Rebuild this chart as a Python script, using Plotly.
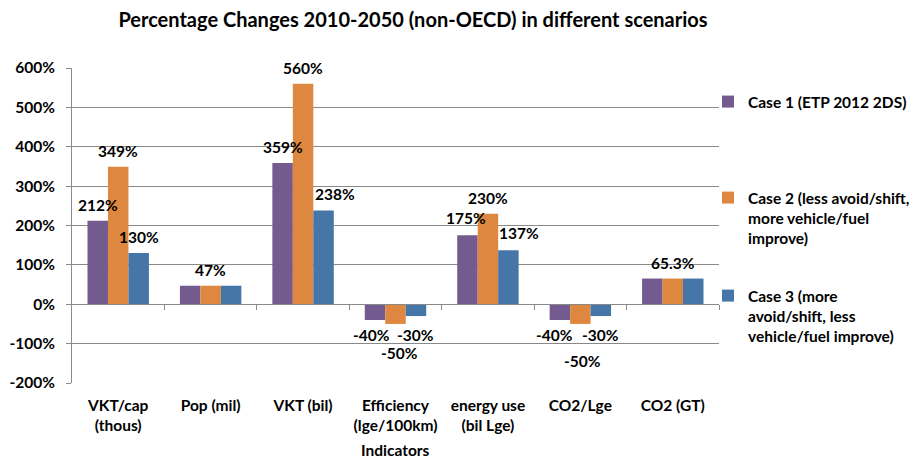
import plotly.graph_objects as go

categories = ["VKT/cap<br>(thous)", "Pop (mil)", "VKT (bil)", "Efficiency<br>(lge/100km)",
              "energy use<br>(bil Lge)", "CO2/Lge", "CO2 (GT)"]
series_names = ["Case 1 (ETP 2012 2DS)",
                "Case 2 (less avoid/shift,<br>more vehicle/fuel<br>improve)",
                "Case 3 (more<br>avoid/shift, less<br>vehicle/fuel improve)"]
case1 = [212, 47, 359, -40, 175, -40, 65.3]
case2 = [349, 47, 560, -50, 230, -50, 65.3]
case3 = [130, 47, 238, -30, 137, -30, 65.3]
labels1 = ["212%", None, "359%", "-40%", "175%", "-40%", None]
labels2 = ["349%", "47%", "560%", "-50%", "230%", "-50%", "65.3%"]
labels3 = ["130%", None, "238%", "-30%", "137%", "-30%", None]
y_ticks = [-200, -100, 0, 100, 200, 300, 400, 500, 600]
y_tick_labels = ["-200%", "-100%", "0%", "100%", "200%", "300%", "400%", "500%", "600%"]

colors = ["#735A8F", "#DE8740", "#4675A8"]
FONT = "Lato"
FS = 15.5
BAR_W = 0.2215
offsets = [-BAR_W, 0.0, BAR_W]
# label placement tweaks (pixels): (xshift, yshift) per series per category
label_shift = [
    [(0, 16), (0, 16), (0, 16), (-4, -15), (-1, 17), (-5, -15), (0, 16)],
    [(0, 16), (0, 16), (0, 16), (4, -29), (0, 16), (2, -37), (0, 16)],
    [(0, 16), (0, 16), (11, 17), (0, -19), (11, 17), (0, -19), (0, 16)],
]

fig = go.Figure()
all_vals = [case1, case2, case3]
all_labels = [labels1, labels2, labels3]
for k in range(3):
    xs = [i + offsets[k] for i in range(len(categories))]
    fig.add_trace(go.Bar(
        x=xs, y=all_vals[k], width=BAR_W, name=series_names[k],
        marker=dict(color=colors[k], line=dict(width=0)),
        legend=["legend", "legend2", "legend3"][k],
        xaxis="x2" if k == 2 else "x",
        hoverinfo="y",
    ))
    for i, lab in enumerate(all_labels[k]):
        if lab is None:
            continue
        dx, dy = label_shift[k][i]
        fig.add_annotation(x=xs[i], y=all_vals[k][i], xref="x", yref="y", text=lab, showarrow=False,
                           xshift=dx, yshift=dy, xanchor="center", yanchor="middle",
                           font=dict(family=FONT, size=FS, color="#000000", weight="bold"))

fig.add_annotation(x=0.5, y=-67 / 315, xref="paper", yref="paper", text="Indicators",
                   showarrow=False, xanchor="center", yanchor="middle",
                   font=dict(family=FONT, size=FS, color="#000000", weight="bold"))

axis_gray = "#898989"
legend_font = dict(family=FONT, size=FS, color="#000000", weight="bold")
fig.update_layout(
    width=913, height=451,
    margin=dict(l=64, r=202, t=60, b=76, autoexpand=False),
    paper_bgcolor="white", plot_bgcolor="white",
    barmode="overlay",
    font=dict(family=FONT, size=FS, color="#000000", weight="bold"),
    title=dict(text="<b>Percentage Changes 2010-2050 (non-OECD) in different scenarios</b>",
               x=(413 - 8) / 913, xref="container", xanchor="center",
               y=1 - 12 / 451, yref="container", yanchor="middle",
               font=dict(family=FONT, size=20, color="#000000")),
    xaxis=dict(range=[-0.5, 6.5], tickvals=list(range(len(categories))), ticktext=categories,
               showgrid=False, zeroline=False, showline=False, ticks="",
               ticklabelstandoff=11),
    xaxis2=dict(range=[-0.5, 6.5], matches="x", overlaying="x", anchor="free", position=0.25,
                tickvals=[i + 0.5 for i in range(len(categories))],
                ticks="outside", ticklen=5, tickcolor=axis_gray, tickwidth=1,
                showline=True, linecolor=axis_gray, linewidth=1,
                showticklabels=False, showgrid=False, zeroline=False),
    yaxis=dict(range=[-200, 600], tickvals=y_ticks, ticktext=y_tick_labels,
               showgrid=True, gridcolor=axis_gray, gridwidth=1,
               zeroline=False, showline=True, linecolor=axis_gray, linewidth=1,
               ticks="outside", ticklen=5, tickcolor=axis_gray, ticklabelstandoff=8),
    legend=dict(x=0.983, xanchor="left", y=1 - 17 / 315, yanchor="top", valign="top",
                bgcolor="rgba(0,0,0,0)", font=legend_font),
    legend2=dict(x=0.983, xanchor="left", y=1 - 113 / 315, yanchor="top", valign="top",
                 bgcolor="rgba(0,0,0,0)", font=legend_font),
    legend3=dict(x=0.983, xanchor="left", y=1 - 211 / 315, yanchor="top", valign="top",
                 bgcolor="rgba(0,0,0,0)", font=legend_font),
    showlegend=True,
)

fig.write_html("out.html")
